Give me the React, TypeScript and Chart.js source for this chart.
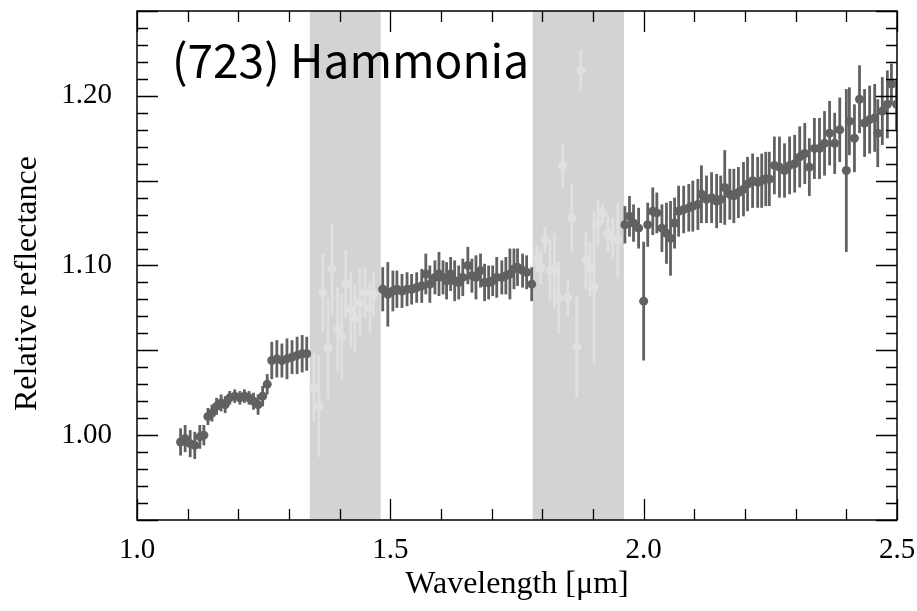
import React, { useEffect, useRef } from "react";
import { Chart, registerables } from "chart.js";

Chart.register(...registerables);

// ---- Data ----
const wavelengthMain = [
  1.086, 1.095, 1.105, 1.114, 1.124, 1.132, 1.140, 1.148, 1.157, 1.166,
  1.174, 1.183, 1.193, 1.203, 1.212, 1.221, 1.230, 1.239, 1.248, 1.257,
  1.266, 1.276, 1.286, 1.296, 1.306, 1.316, 1.326, 1.335,
  1.485, 1.495, 1.505, 1.513, 1.523, 1.533, 1.542, 1.552, 1.562, 1.570,
  1.578, 1.588, 1.596, 1.604, 1.611, 1.619, 1.627, 1.635, 1.643, 1.653,
  1.661, 1.669, 1.678, 1.686, 1.694, 1.702, 1.710, 1.720, 1.728, 1.736,
  1.744, 1.751, 1.761, 1.769, 1.779,
  1.963, 1.972, 1.980, 1.990, 2.000, 2.008, 2.018, 2.026, 2.036, 2.045,
  2.053, 2.061, 2.069, 2.079, 2.089, 2.097, 2.107, 2.114, 2.124, 2.134,
  2.144, 2.152, 2.160, 2.170, 2.178, 2.187, 2.197, 2.205, 2.215, 2.225,
  2.233, 2.241, 2.248, 2.258, 2.268, 2.278, 2.288, 2.298, 2.308, 2.318,
  2.327, 2.337, 2.347, 2.357, 2.367, 2.377, 2.387, 2.400, 2.406, 2.416,
  2.426, 2.436, 2.446, 2.456, 2.462, 2.471, 2.481, 2.489, 2.499,
];
const reflectanceMain = [
  0.996, 0.998, 0.995, 0.994, 0.999, 1.000, 1.011, 1.013, 1.017, 1.019,
  1.018, 1.022, 1.023, 1.022, 1.023, 1.022, 1.020, 1.018, 1.023, 1.030,
  1.044, 1.045, 1.044, 1.045, 1.046, 1.047, 1.048, 1.048,
  1.086, 1.083, 1.085, 1.086, 1.085, 1.086, 1.086, 1.087, 1.088, 1.095,
  1.089, 1.093, 1.095, 1.093, 1.091, 1.095, 1.091, 1.090, 1.093, 1.100,
  1.094, 1.093, 1.097, 1.090, 1.090, 1.091, 1.093, 1.093, 1.094, 1.095,
  1.098, 1.099, 1.097, 1.096, 1.089,
  1.124, 1.129, 1.125, 1.122, 1.079, 1.124, 1.132, 1.131, 1.122, 1.119,
  1.116, 1.125, 1.132, 1.133, 1.134, 1.135, 1.136, 1.142, 1.139, 1.140,
  1.138, 1.139, 1.146, 1.142, 1.141, 1.143, 1.145, 1.148, 1.150, 1.149,
  1.150, 1.151, 1.151, 1.159, 1.158, 1.156, 1.159, 1.160, 1.164, 1.166,
  1.158, 1.169, 1.169, 1.172, 1.178, 1.172, 1.180, 1.156, 1.185, 1.175,
  1.198, 1.184, 1.186, 1.187, 1.178, 1.191, 1.195, 1.207, 1.195,
];
const errorMain = [
  0.008, 0.008, 0.008, 0.008, 0.007, 0.006, 0.005, 0.005, 0.005, 0.005,
  0.005, 0.004, 0.004, 0.004, 0.004, 0.004, 0.005, 0.006, 0.006, 0.006,
  0.011, 0.011, 0.010, 0.012, 0.010, 0.011, 0.011, 0.010,
  0.013, 0.019, 0.012, 0.011, 0.010, 0.010, 0.009, 0.009, 0.010, 0.012,
  0.011, 0.010, 0.013, 0.010, 0.011, 0.010, 0.012, 0.010, 0.011, 0.011,
  0.010, 0.013, 0.010, 0.011, 0.010, 0.009, 0.012, 0.010, 0.011, 0.015,
  0.012, 0.011, 0.010, 0.010, 0.010,
  0.011, 0.012, 0.011, 0.012, 0.035, 0.013, 0.014, 0.012, 0.014, 0.018,
  0.022, 0.015, 0.015, 0.014, 0.014, 0.015, 0.015, 0.017, 0.014, 0.015,
  0.016, 0.014, 0.022, 0.015, 0.016, 0.015, 0.016, 0.016, 0.016, 0.015,
  0.016, 0.016, 0.016, 0.017, 0.018, 0.016, 0.017, 0.017, 0.018, 0.018,
  0.017, 0.018, 0.018, 0.019, 0.019, 0.018, 0.019, 0.048, 0.020, 0.020,
  0.020, 0.020, 0.020, 0.020, 0.020, 0.020, 0.020, 0.012, 0.015,
];

const wavelengthMasked = [
  1.349, 1.359, 1.367, 1.377, 1.385, 1.396, 1.404, 1.412, 1.422, 1.430,
  1.440, 1.450, 1.460, 1.467,
  1.789, 1.797, 1.805, 1.815, 1.824, 1.832, 1.840, 1.850, 1.858, 1.868,
  1.876, 1.886, 1.894, 1.902, 1.910, 1.919, 1.929, 1.939, 1.949,
];
const reflectanceMasked = [
  1.028, 1.017, 1.084, 1.051, 1.098, 1.062, 1.058, 1.089, 1.074, 1.069,
  1.078, 1.084, 1.075, 1.083,
  1.104, 1.099, 1.115, 1.097, 1.097, 1.081, 1.159, 1.081, 1.128, 1.052,
  1.215, 1.103, 1.098, 1.087, 1.125, 1.131, 1.119, 1.116, 1.115,
];
const errorMasked = [
  0.020, 0.030, 0.023, 0.030, 0.027, 0.025, 0.025, 0.020, 0.022, 0.020,
  0.020, 0.015, 0.015, 0.013,
  0.008, 0.010, 0.008, 0.018, 0.022, 0.021, 0.013, 0.011, 0.020, 0.030,
  0.012, 0.017, 0.016, 0.045, 0.013, 0.006, 0.011, 0.012, 0.022,
];

const maskedBandStart = [1.341, 1.781];
const maskedBandEnd = [1.481, 1.961];

const xLabelTicks = [1.0, 1.5, 2.0, 2.5];
const yLabelTicks = [1.0, 1.1, 1.2];

const TITLE = "(723) Hammonia";
const X_TITLE = "Wavelength [\u03bcm]";
const Y_TITLE = "Relative reflectance";

const MAIN_COLOR = "#616161";
const MASKED_COLOR = "#e0e0e0";
const BAND_COLOR = "#d3d3d3";
const SERIF = '"Liberation Serif", "Times New Roman", serif';

const mainPoints = wavelengthMain.map((w, i) => ({ x: w, y: reflectanceMain[i] }));
const maskedPoints = wavelengthMasked.map((w, i) => ({ x: w, y: reflectanceMasked[i] }));

const bandsAndErrorsPlugin = {
  id: "bandsAndErrors",
  beforeDatasetsDraw(chart: any) {
    const { ctx, chartArea, scales } = chart;
    const xs = scales.x;
    const ys = scales.y;
    ctx.save();
    ctx.beginPath();
    ctx.rect(chartArea.left, chartArea.top, chartArea.right - chartArea.left, chartArea.bottom - chartArea.top);
    ctx.clip();
    ctx.fillStyle = BAND_COLOR;
    maskedBandStart.forEach((a, i) => {
      const x0 = xs.getPixelForValue(a);
      const x1 = xs.getPixelForValue(maskedBandEnd[i]);
      ctx.fillRect(x0, chartArea.top, x1 - x0, chartArea.bottom - chartArea.top);
    });
    const order = [1, 0];
    order.forEach((di) => {
      const ds = chart.data.datasets[di];
      const errs = ds.errors as number[];
      ctx.strokeStyle = ds.backgroundColor;
      ctx.lineWidth = 2.8;
      ds.data.forEach((p: any, j: number) => {
        const px = xs.getPixelForValue(p.x);
        ctx.beginPath();
        ctx.moveTo(px, ys.getPixelForValue(p.y - errs[j]));
        ctx.lineTo(px, ys.getPixelForValue(p.y + errs[j]));
        ctx.stroke();
      });
    });
    ctx.restore();
  },
};

const frameAndTicksPlugin = {
  id: "frameAndTicks",
  afterDraw(chart: any) {
    const { ctx, chartArea, scales } = chart;
    const xs = scales.x;
    const ys = scales.y;
    const { left, right, top, bottom } = chartArea;
    ctx.save();
    ctx.strokeStyle = "#000";
    ctx.lineWidth = 1.5;
    ctx.strokeRect(left, top, right - left, bottom - top);
    ctx.lineWidth = 1.3;
    const MAJ = 21;
    const MIN = 11;
    for (let k = 10; k <= 25; k++) {
      const v = k / 10;
      const px = Math.round(xs.getPixelForValue(v)) + 0.5;
      const len = k % 5 === 0 ? MAJ : MIN;
      ctx.beginPath();
      ctx.moveTo(px, bottom);
      ctx.lineTo(px, bottom - len);
      ctx.moveTo(px, top);
      ctx.lineTo(px, top + len);
      ctx.stroke();
    }
    for (let k = 95; k <= 125; k++) {
      const v = k / 100;
      const py = Math.round(ys.getPixelForValue(v)) + 0.5;
      const len = k % 5 === 0 ? MAJ : MIN;
      ctx.beginPath();
      ctx.moveTo(left, py);
      ctx.lineTo(left + len, py);
      ctx.moveTo(right, py);
      ctx.lineTo(right - len, py);
      ctx.stroke();
    }
    ctx.fillStyle = "#000";
    // title inside the plot
    ctx.font = '46px "Noto Sans CJK JP", "Noto Sans", sans-serif';
    ctx.textAlign = "left";
    ctx.textBaseline = "alphabetic";
    ctx.fillText(TITLE, left + 35, top + 67);
    // y-axis title
    ctx.font = "32px " + SERIF;
    ctx.textAlign = "center";
    ctx.textBaseline = "middle";
    ctx.translate(28, (top + bottom) / 2 + 18);
    ctx.rotate(-Math.PI / 2);
    ctx.fillText(Y_TITLE, 0, 0);
    ctx.restore();
  },
};

export default function App() {
  const canvasRef = useRef<HTMLCanvasElement | null>(null);

  useEffect(() => {
    if (!canvasRef.current) return;
    const chart = new Chart(canvasRef.current, {
      type: "scatter",
      data: {
        datasets: [
          {
            label: "main",
            data: mainPoints,
            backgroundColor: MAIN_COLOR,
            borderColor: MAIN_COLOR,
            pointRadius: 4.5,
            borderWidth: 0,
            errors: errorMain,
          } as any,
          {
            label: "masked",
            data: maskedPoints,
            backgroundColor: MASKED_COLOR,
            borderColor: MASKED_COLOR,
            pointRadius: 4.5,
            borderWidth: 0,
            errors: errorMasked,
          } as any,
        ],
      },
      options: {
        animation: false,
        responsive: true,
        maintainAspectRatio: false,
        layout: { padding: { top: 11, right: 20, left: 0, bottom: 0 } },
        plugins: {
          legend: { display: false },
          tooltip: { enabled: false },
        },
        scales: {
          x: {
            type: "linear",
            min: 1.0,
            max: 2.5,
            grid: { display: false },
            border: { display: false },
            afterBuildTicks: (scale: any) => {
              scale.ticks = xLabelTicks.map((v) => ({ value: v }));
            },
            afterFit: (scale: any) => {
              scale.height = 91;
              scale.paddingLeft = 0;
              scale.paddingRight = 0;
            },
            ticks: {
              color: "#000",
              font: { family: SERIF, size: 29 },
              padding: 5,
              maxRotation: 0,
              callback: (v: any) => Number(v).toFixed(1),
            },
            title: {
              display: true,
              text: X_TITLE,
              color: "#000",
              font: { family: SERIF, size: 32 },
              padding: { top: 0, bottom: 7 },
            },
          },
          y: {
            type: "linear",
            min: 0.95,
            max: 1.25,
            grid: { display: false },
            border: { display: false },
            afterBuildTicks: (scale: any) => {
              scale.ticks = yLabelTicks.map((v) => ({ value: v }));
            },
            afterFit: (scale: any) => {
              scale.width = 137;
              scale.paddingTop = 0;
              scale.paddingBottom = 0;
            },
            ticks: {
              color: "#000",
              font: { family: SERIF, size: 29 },
              padding: 17,
              callback: (v: any) => Number(v).toFixed(2),
            },
          },
        },
      },
      plugins: [bandsAndErrorsPlugin, frameAndTicksPlugin],
    } as any);
    return () => chart.destroy();
  }, []);

  return (
    <div style={{ position: "absolute", left: 0, top: 0, width: 917, height: 611, background: "#fff" }}>
      <canvas ref={canvasRef} />
    </div>
  );
}
